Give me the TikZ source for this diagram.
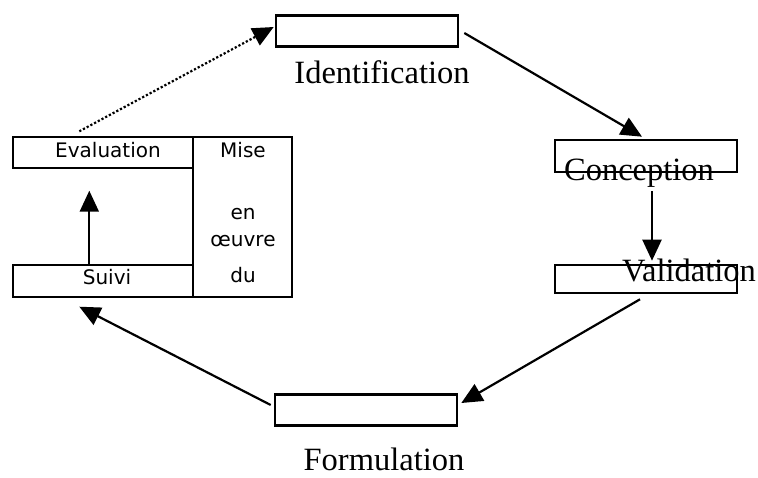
\documentclass[tikz,border=0pt]{standalone}
\usepackage{fontspec}
\setmainfont{Liberation Serif}
\newfontfamily\comicfont{DejaVu Sans}
\usetikzlibrary{arrows.meta, positioning}

\begin{document}
\begin{tikzpicture}[x=1pt,y=-1pt,line join=miter,
	tip/.style={-{Triangle[length=21pt,width=19pt]}},
	box/.style={draw,line width=2.6pt,minimum width=182pt,inner sep=0pt},
	cell/.style={draw,line width=1.4pt,inner sep=0pt},
	lbl/.style={font=\fontsize{32.5}{36}\selectfont,inner sep=0pt},
	small/.style={font=\comicfont\fontsize{20}{24}\selectfont,inner sep=0pt}]
	\useasboundingbox (0,0) rectangle (758,478);
	% cycle boxes
	\node[box, minimum height=31pt] (identb) at (367,31) {};
	\node[lbl] (identt) at (382,72) {Identification};
	\node[box, minimum height=32pt] (concb) at (646,156) {};
	\node[lbl] (conct) at (639,173) {Conception};
	\node[box, minimum height=28pt] (valb) at (646,279) {};
	\node[lbl] (valt) at (689,270) {Validation};
	\node[box, minimum height=31pt] (formb) at (366,410) {};
	\node[lbl] (formt) at (384,459) {Formulation};
	% left block
	\node[cell, minimum width=180pt, minimum height=31pt] (evalb) at (103,152.5) {};
	\node[small] (evalt) at (108,150) {Evaluation};
	\node[cell, minimum width=180pt, minimum height=32pt] (suivib) at (103,281) {};
	\node[small] (suivit) at (107,277) {Suivi};
	\node[cell, minimum width=99pt, minimum height=160pt] (miseb) at (242.5,217) {};
	\node[small] (miset) at (243,150) {Mise};
	\node[small] (ent) at (243,214) {en};
	\node[small] (oeuvret) at (243,241) {œuvre};
	\node[small] (dut) at (243,275) {du};
	% connectors
	\draw[tip, line width=2.2pt, dotted] ([xshift=67pt,yshift=5pt]evalb.north west) -- ([xshift=-1pt,yshift=4pt]identb.west);
	\draw[tip, line width=2.2pt] ([xshift=5pt,yshift=-2pt]identb.east) -- ([xshift=-4pt,yshift=2pt]concb.north);
	\draw[tip, line width=2.2pt] ([xshift=13pt,yshift=-4pt]conct.south) -- ([xshift=6pt,yshift=3pt]valb.north);
	\draw[tip, line width=2.2pt] ([xshift=-6pt,yshift=-5pt]valb.south) -- ([xshift=3pt,yshift=7pt]formb.east);
	\draw[tip, line width=2.2pt] ([xshift=-3pt,yshift=5pt]formb.west) -- ([xshift=67pt,yshift=-9pt]suivib.south west);
	\draw[tip, line width=2pt] ([xshift=77pt]suivib.north west) -- ([xshift=77pt,yshift=-22pt]evalb.south west);
\end{tikzpicture}
\end{document}
